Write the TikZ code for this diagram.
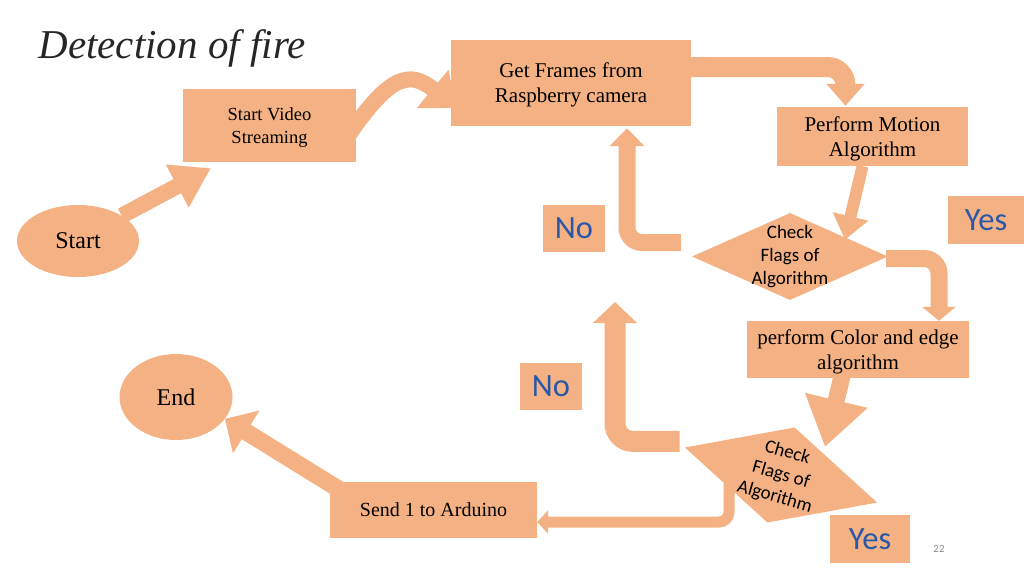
\documentclass[tikz,border=0pt]{standalone}
\usepackage{fontspec}
\setmainfont{Liberation Serif}
\newfontfamily\calib{Carlito}
\usetikzlibrary{arrows.meta,shapes.geometric,calc}
\pgfdeclarelayer{bg}
\pgfsetlayers{bg,main}
\definecolor{peach}{HTML}{F4B183}
\definecolor{yesno}{HTML}{2958A8}
\begin{document}
\begin{tikzpicture}[x=1pt,y=-1pt,
  box/.style={fill=peach, draw=none, inner sep=0pt, align=center, text depth=0pt, font=\fontsize{21}{25}\selectfont},
  oval/.style={ellipse, fill=peach, draw=none, inner sep=0pt, font=\fontsize{24}{28}\selectfont},
  diam/.style={diamond, fill=peach, draw=none, inner sep=0pt},
  dlbl/.style={align=center, inner sep=0pt, font=\calib\fontsize{19}{23}\selectfont},
  yn/.style={fill=peach, draw=none, inner sep=0pt, text=yesno, font=\calib\fontsize{32.5}{38}\selectfont},
  blk/.style n args={3}{line width=#1, draw=peach, -{Triangle[width=#2,length=#3]}}
]
\useasboundingbox (0,0) rectangle (1024,576);

% title
\node[anchor=base west, text=black!85, font=\fontsize{41}{48}\selectfont\itshape] (title) at (35,58) {Detection of fire};

% nodes
\node[box, minimum width=173pt, minimum height=73pt, font=\fontsize{18.5}{23}\selectfont] (sv) at (269.5,125.5) {Start Video\\Streaming};
\node[box, minimum width=240pt, minimum height=86pt] (gf) at (571,83) {Get Frames from\\Raspberry camera};
\node[box, minimum width=191pt, minimum height=59pt] (pm) at (872.5,136.5) {Perform Motion\\Algorithm};
\node[box, minimum width=222pt, minimum height=57pt] (pc) at (858,349.5) {perform Color and edge\\algorithm};
\node[box, minimum width=207pt, minimum height=56pt, font=\fontsize{20}{24}\selectfont] (sa) at (433.5,510) {Send 1 to Arduino};

\node[oval, minimum width=122pt, minimum height=72pt] (start) at (78,241) {Start};
\node[oval, minimum width=113pt, minimum height=86pt] (end) at (176,397) {End};

\node[diam, minimum width=196pt, minimum height=87pt,
      label={[dlbl]center:{Check\\Flags of\\Algorithm}}] (d1) at (790,256.5) {};
\node[diam, minimum width=200pt, minimum height=99pt, rotate=-16,
      label={[dlbl, rotate=-16]center:{Check\\Flags of\\Algorithm}}] (d2) at (781,475) {};

\node[yn, minimum width=62pt, minimum height=47pt] (no1) at (574,228.5) {No};
\node[yn, minimum width=76pt, minimum height=48pt] (yes1) at (986,220) {Yes};
\node[yn, minimum width=62pt, minimum height=47pt] (no2) at (551,386.5) {No};
\node[yn, minimum width=80pt, minimum height=48pt] (yes2) at (870,539) {Yes};

\node[text=black!45, font=\calib\fontsize{11}{13}\selectfont] (pg) at (939,549) {22};

\coordinate (up2) at (615,302);

\begin{pgfonlayer}{bg}
\draw[blk={16pt}{46pt}{38pt}] (start.30) -- ($(sv.south west)+(28,6)$);
\draw[blk={16pt}{48pt}{30pt}] ($(sv.east)+(-8,10)$) .. controls +(42,-61) and +(-46,-38) .. ($(gf.west)+(5,25)$);
\draw[blk={20pt}{37pt}{22pt}, rounded corners=18pt] ($(gf.east)+(0,-16)$) -| ($(pm.north)+(-27,-1)$);
\draw[blk={12pt}{35pt}{24pt}] ($(pm.south)+(-10,0)$) -- ($(d1.north)+(55,27)$);
\draw[blk={17pt}{33pt}{14pt}, rounded corners=15pt] ($(d1.east)+(-2,2)$) -| ($(pc.north)+(81,0)$);
\draw[blk={17pt}{61pt}{48pt}] ($(pc.south)+(-16,-2)$) -- ($(d2.center)+(44,-28)$);
\draw[blk={17pt}{34pt}{18pt}, rounded corners=15pt] ($(d1.west)+(-11,-14)$) -| ($(gf.south)+(56,2)$);
\draw[blk={21pt}{43pt}{21pt}, rounded corners=18pt] ($(d2.west)+(-5,-6)$) -| (up2);
\draw[blk={11pt}{23pt}{11pt}, rounded corners=10pt] ($(d2.center)+(-52,5)$) |- ($(sa.east)+(0,12)$);
\draw[blk={17pt}{49pt}{25pt}] ($(sa.north west)+(10,8)$) -- (end.-24);
\end{pgfonlayer}
\end{tikzpicture}
\end{document}
